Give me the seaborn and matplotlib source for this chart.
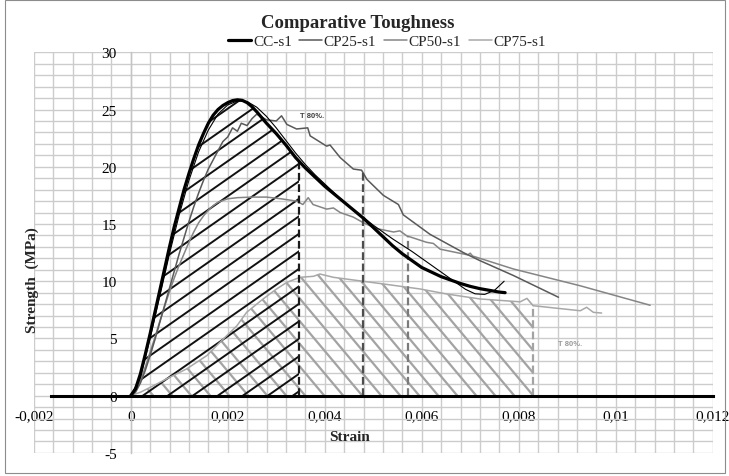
import numpy as np
import pandas as pd
import matplotlib
matplotlib.use("Agg")
import matplotlib.pyplot as plt
import seaborn as sns
from matplotlib.lines import Line2D
from matplotlib.patches import Rectangle

# ---------------- data ----------------
series_names = ["CC-s1", "CP25-s1", "CP50-s1", "CP75-s1"]

cc_x = [0.0, 0.0001, 0.0002, 0.0003, 0.0004, 0.0005, 0.0006, 0.0007, 0.0008, 0.0009,
        0.0010, 0.0011, 0.0012, 0.0013, 0.0014, 0.0015, 0.0016, 0.0017, 0.0018, 0.0019,
        0.0020, 0.0021, 0.0022, 0.0023, 0.0024, 0.0025, 0.0026, 0.0027, 0.0028, 0.0030,
        0.0032, 0.0034, 0.0036, 0.0038, 0.0040, 0.0042, 0.0044, 0.0046, 0.0048, 0.0050,
        0.0052, 0.0054, 0.0056, 0.0058, 0.0060, 0.0062, 0.0064, 0.0066, 0.0068, 0.0070,
        0.0072, 0.0074, 0.0076, 0.00772]
cc_y = [0.0, 0.6, 1.9, 3.6, 5.4, 7.3, 9.2, 11.1, 13.0, 14.8,
        16.4, 18.0, 19.4, 20.7, 21.9, 22.9, 23.8, 24.5, 25.0, 25.35,
        25.6, 25.78, 25.85, 25.8, 25.6, 25.25, 24.8, 24.3, 23.8, 22.9,
        21.9, 20.8, 19.9, 19.1, 18.3, 17.6, 16.9, 16.2, 15.5, 14.7,
        13.9, 13.1, 12.4, 11.8, 11.2, 10.8, 10.4, 10.1, 9.8, 9.55,
        9.35, 9.2, 9.05, 9.0]

fit_x = [0.0, 0.0002, 0.0004, 0.0006, 0.0008, 0.0010, 0.0012, 0.0014, 0.0016, 0.0018,
         0.0020, 0.0022, 0.0024, 0.0026, 0.0028, 0.0030, 0.0032, 0.0034, 0.0036, 0.0038,
         0.0040, 0.0043, 0.0046, 0.0050, 0.0054, 0.0058, 0.0062, 0.0066, 0.0069, 0.0071,
         0.0073, 0.0075, 0.0077]
fit_y = [0.0, 1.6, 5.0, 8.7, 12.4, 15.8, 18.8, 21.3, 23.2, 24.6,
         25.4, 25.75, 25.7, 25.2, 24.4, 23.4, 22.3, 21.2, 20.2, 19.3,
         18.5, 17.3, 16.2, 14.9, 13.7, 12.6, 11.4, 10.2, 9.3, 8.9,
         8.85, 9.2, 10.0]

cp25_x = [0.0, 0.0001, 0.0002, 0.0003, 0.0004, 0.0005, 0.0006, 0.0007, 0.0008, 0.0009,
          0.0010, 0.0011, 0.0012, 0.0013, 0.0014, 0.0015, 0.0016, 0.0017, 0.0018, 0.0019,
          0.0020, 0.0021, 0.0022, 0.00228, 0.0024, 0.0025, 0.0026, 0.0028, 0.0030, 0.00311,
          0.00322, 0.00342, 0.00365, 0.0037, 0.00404, 0.00411, 0.00432, 0.00459, 0.00476,
          0.00487, 0.00521, 0.00552, 0.00562, 0.00617, 0.00686, 0.0072, 0.00789, 0.00882]
cp25_y = [0.0, 0.3, 1.1, 2.2, 3.5, 4.9, 6.4, 7.9, 9.4, 10.9,
          12.4, 13.8, 15.2, 16.5, 17.7, 18.8, 19.8, 20.6, 21.4, 22.2,
          22.6, 23.4, 23.1, 23.8, 23.6, 24.2, 24.6, 24.1, 24.0, 24.45,
          23.7, 23.3, 23.4, 22.7, 21.8, 21.9, 20.8, 19.8, 19.7,
          18.9, 17.5, 16.7, 15.8, 14.1, 12.5, 11.8, 10.5, 8.6]

cp50_x = [0.0, 0.0001, 0.0002, 0.0003, 0.0004, 0.0005, 0.0006, 0.0007, 0.0008, 0.0009,
          0.0010, 0.0011, 0.0012, 0.0013, 0.0014, 0.0015, 0.0016, 0.0017, 0.0018, 0.0020,
          0.0022, 0.0025, 0.0028, 0.0031, 0.00342, 0.00355, 0.00366, 0.00376, 0.00404,
          0.00418, 0.00432, 0.00459, 0.0048, 0.00507, 0.00542, 0.00555, 0.00569, 0.0061,
          0.00624, 0.00638, 0.00695, 0.007, 0.00705, 0.00789, 0.00927, 0.01071]
cp50_y = [0.0, 0.4, 1.3, 2.5, 3.8, 5.1, 6.5, 7.8, 9.1, 10.3,
          11.4, 12.4, 13.4, 14.3, 15.1, 15.7, 16.2, 16.6, 16.9, 17.2,
          17.3, 17.35, 17.35, 17.2, 17.0, 16.7, 17.3, 16.7, 16.3,
          16.4, 16.0, 15.6, 15.1, 14.6, 14.3, 14.4, 13.97, 13.4,
          13.3, 12.8, 12.3, 12.45, 12.2, 11.07, 9.6, 7.9]

cp75_x = [0.0, 0.0002, 0.00047, 0.0008, 0.00115, 0.00157, 0.00184, 0.00219, 0.00239,
          0.00273, 0.003, 0.00322, 0.00349, 0.00377, 0.0039, 0.00418, 0.00521, 0.00597,
          0.00652, 0.0072, 0.00803, 0.00817, 0.0083, 0.00927, 0.0094, 0.00954, 0.00971]
cp75_y = [0.0, 0.3, 0.87, 1.6, 2.33, 3.5, 4.66, 6.11, 7.28,
          8.45, 9.3, 9.9, 10.34, 10.43, 10.63, 10.34, 9.76, 9.32,
          8.88, 8.45, 8.2, 8.5, 7.86, 7.42, 7.72, 7.28, 7.22]

# strain at the 80% toughness limit (dashed verticals)
t80_x = [0.00347, 0.00478, 0.00572, 0.0083]

x_ticks = [-0.002, 0.0, 0.002, 0.004, 0.006, 0.008, 0.010, 0.012]
x_tick_labels = ["-0,002", "0", "0,002", "0,004", "0,006", "0,008", "0,01", "0,012"]
y_ticks = [-5, 0, 5, 10, 15, 20, 25, 30]
y_tick_labels = ["-5", "0", "5", "10", "15", "20", "25", "30"]

axis_line_start = -0.00165
note_text = "T 80%."
note_pos = [(0.00374, 24.5), (0.00906, 4.6)]

# ---------------- styles ----------------
colors = ["#000000", "#595959", "#858585", "#a8a8a8"]
widths = [2.3, 1.1, 1.1, 1.1]

sns.set_theme(style="white")
plt.rcParams["font.family"] = ["Liberation Serif", "DejaVu Serif"]

W, H = 729, 477
L_PX, R_PX, T_PX, B_PX = 33.7, 712.7, 53.3, 453.9
fig = plt.figure(figsize=(W / 100, H / 100), dpi=100)
ax = fig.add_axes([L_PX / W, 1 - B_PX / H, (R_PX - L_PX) / W, (B_PX - T_PX) / H])
xlim = (-0.002, 0.012)
ylim = (-5, 30)
ax.set_xlim(*xlim)
ax.set_ylim(*ylim)

ax.set_xticks(x_ticks, labels=x_tick_labels)
ax.set_yticks(y_ticks, labels=y_tick_labels)
ax.set_xticks(np.arange(xlim[0], xlim[1] + 1e-9, 0.0004), minor=True)
ax.set_yticks(np.arange(ylim[0], ylim[1] + 1e-9, 1), minor=True)
ax.grid(which="both", color="#cccccc", lw=1.0)
ax.set_axisbelow(True)
ax.tick_params(axis="x", which="major", length=0, pad=10, labelsize=11, colors="black")
ax.tick_params(axis="y", which="major", length=3, width=0.8, color="#a0a0a0", pad=7,
               labelsize=11, labelcolor="black")
ax.tick_params(which="minor", length=0)
for s in ["top", "right"]:
    ax.spines[s].set_visible(False)
ax.spines["left"].set_position(("data", 0))
ax.spines["left"].set_color("#c4c4c4")
ax.spines["left"].set_linewidth(1.0)
ax.spines["bottom"].set_position(("data", 0))
ax.spines["bottom"].set_color("black")
ax.spines["bottom"].set_linewidth(2.2)
ax.spines["bottom"].set_bounds(axis_line_start, xlim[1])
ax.spines["bottom"].set_zorder(6)

# ---------------- hatched areas ----------------
pos = ax.get_position()
kx = pos.width * W / (xlim[1] - xlim[0])   # px per strain unit
ky = pos.height * H / (ylim[1] - ylim[0])  # px per MPa


def hatch_region(xs, ys, x_end, angle_deg, spacing_px, anchor, color, lw, z):
    xr = [x for x in xs if x < x_end] + [x_end]
    yr = [y for x, y in zip(xs, ys) if x < x_end] + [float(np.interp(x_end, xs, ys))]
    poly = ax.fill_between(xr, 0, yr, facecolor="none", edgecolor="none", lw=0)
    clip = poly.get_paths()[0]
    m = np.tan(np.radians(angle_deg)) * kx / ky
    dx = spacing_px / kx
    ytop = max(yr) + 1
    for k in range(-60, 60):
        c = anchor + k * dx
        x1, x2 = c - 1 / m, c + ytop / m
        if max(x1, x2) < -0.0005 or min(x1, x2) > x_end + 0.0005:
            continue
        ln, = ax.plot([x1, x2], [-1, ytop], color=color, lw=lw, zorder=z,
                      solid_capstyle="butt")
        ln.set_clip_path(clip, ax.transData)


hatch_region(cp75_x, cp75_y, t80_x[3], -50, 19, t80_x[3], "#a3a3a3", 1.6, 2.0)
hatch_region(cc_x, cc_y, t80_x[0], 35, 25, 0.00025, "#111111", 1.4, 2.2)

# ---------------- series ----------------
all_x = [cc_x, cp25_x, cp50_x, cp75_x]
all_y = [cc_y, cp25_y, cp50_y, cp75_y]
zs = [5, 4, 3.8, 3.6]
for name, xs, ys, c, w, z in zip(series_names, all_x, all_y, colors, widths, zs):
    df = pd.DataFrame({"Strain": xs, "Strength": ys})
    sns.lineplot(data=df, x="Strain", y="Strength", ax=ax, color=c, lw=w, zorder=z,
                 sort=False, estimator=None, legend=False)
sns.lineplot(data=pd.DataFrame({"Strain": fit_x, "Strength": fit_y}), x="Strain",
             y="Strength", ax=ax, color="black", lw=0.8, zorder=5.2, sort=False,
             estimator=None, legend=False)

# dashed T80 verticals
for xt, xs, ys, c in zip(t80_x, all_x, all_y, ["#1a1a1a", "#4d4d4d", "#7a7a7a", "#a3a3a3"]):
    yt = float(np.interp(xt, xs, ys))
    ax.plot([xt, xt], [0, yt], color=c, lw=1.6, ls=(0, (3.5, 1.6)), zorder=4.5)

ax.set_xlabel("")
ax.set_ylabel("")

# annotations
ax.text(note_pos[0][0], note_pos[0][1], note_text, fontsize=5.5, fontweight="bold",
        family="Liberation Sans", color="#404040", ha="center", va="center", zorder=7)
ax.text(note_pos[1][0], note_pos[1][1], note_text, fontsize=5.5, fontweight="bold",
        family="Liberation Sans", color="#9a9a9a", ha="center", va="center", zorder=7)

# titles
fig.text(357.5 / W, 1 - 24 / H, "Comparative Toughness", ha="center", va="center",
         fontsize=13.5, fontweight="bold")
fig.text(350 / W, 1 - 438 / H, "Strain", ha="center", va="center", fontsize=11,
         fontweight="bold")
fig.text(32 / W, 1 - 280 / H, "Strength  (MPa)", ha="center", va="center", fontsize=11,
         fontweight="bold", rotation=90)

# legend
handles = [Line2D([], [], color=c, lw=w) for c, w in zip(colors, widths)]
fig.legend(handles, series_names, loc="center", bbox_to_anchor=(387 / W, 1 - 42.5 / H),
           ncol=4, frameon=False, fontsize=11, handlelength=1.5, handletextpad=0.1,
           columnspacing=0.5, borderaxespad=0, borderpad=0)

# chart border
fig.patches.append(Rectangle((5 / W, 3 / H), 720 / W, 473 / H, transform=fig.transFigure,
                             fill=False, edgecolor="#8c8c8c", lw=0.8))

fig.savefig("out.png", dpi=100)
